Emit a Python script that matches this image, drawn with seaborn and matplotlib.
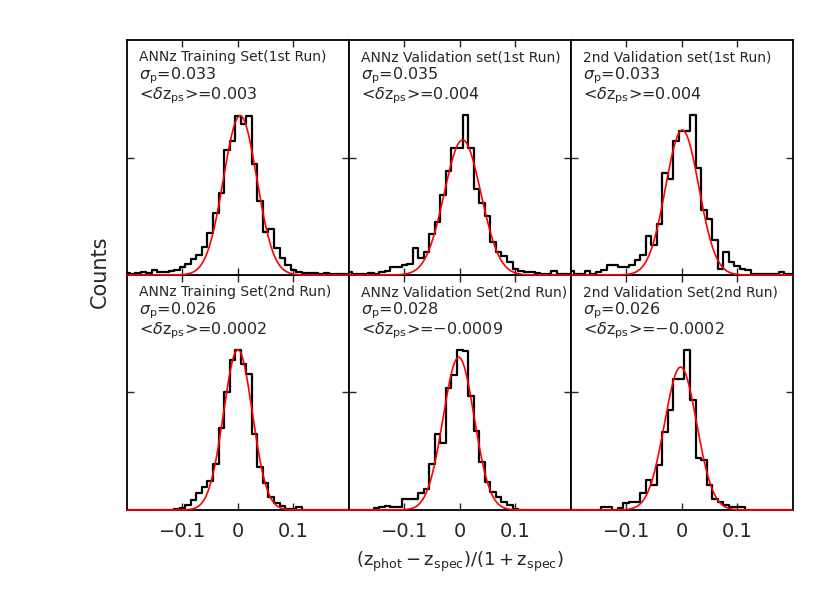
import numpy as np
import pandas as pd
import matplotlib
matplotlib.use("Agg")
import matplotlib.pyplot as plt
import seaborn as sns

sns.set_style("ticks")
plt.rcParams['font.family'] = ['DejaVu Sans']
plt.rcParams['mathtext.fontset'] = 'dejavusans'

# histogram bins (centres, width 0.01)
bin_centers = np.round(np.arange(-0.20, 0.2001, 0.01), 2)
bin_width = 0.01

panel_titles = [
    'ANNz Training Set(1st Run)',
    'ANNz Validation set(1st Run)',
    '2nd Validation set(1st Run)',
    'ANNz Training Set(2nd Run)',
    'ANNz Validation Set(2nd Run)',
    '2nd Validation Set(2nd Run)',
]
sigma_text = ['0.033', '0.035', '0.033', '0.026', '0.028', '0.026']
mean_text = ['0.003', '0.004', '0.004', '0.0002', '\u22120.0009', '\u22120.0002']

# counts per bin
counts_train_1st = [9, 6, 9, 12, 8, 20, 12, 13, 16, 23, 34, 46, 70, 84, 120, 177,
                    263, 349, 531, 571, 678, 642, 678, 474, 317, 185, 195, 113, 73,
                    44, 20, 13, 10, 8, 10, 6, 8, 5, 4, 5, 5]
counts_valid_1st = [13, 6, 5, 6, 8, 6, 13, 16, 34, 34, 42, 45, 117, 74, 99, 174,
                    227, 339, 444, 542, 542, 682, 542, 368, 306, 249, 142, 99, 82,
                    56, 27, 16, 13, 13, 9, 6, 6, 16, 3, 3, 3]
counts_valid2_1st = [16, 4, 4, 16, 4, 12, 20, 44, 44, 34, 34, 44, 63, 87, 166, 127,
                     216, 435, 410, 570, 614, 614, 682, 456, 278, 239, 149, 27, 96,
                     55, 40, 25, 20, 4, 4, 4, 4, 4, 13, 4, 4]
counts_train_2nd = [0, 0, 0, 0, 0, 0, 0, 0, 0, 5, 10, 20, 43, 71, 99, 124, 194,
                    350, 500, 639, 682, 622, 577, 325, 183, 116, 57, 29, 15, 6, 6,
                    13, 0, 0, 0, 0, 0, 0, 0, 0, 0]
counts_valid_2nd = [0, 0, 0, 0, 0, 10, 13, 18, 13, 13, 47, 47, 47, 74, 88, 197,
                    325, 287, 517, 573, 682, 678, 483, 336, 204, 120, 78, 57, 36,
                    20, 6, 0, 0, 0, 0, 0, 0, 0, 0, 0, 0]
counts_valid2_2nd = [0, 0, 0, 0, 0, 0, 11, 11, 0, 8, 30, 36, 36, 74, 127, 106,
                     190, 333, 427, 559, 559, 682, 469, 222, 211, 106, 46, 36, 20,
                     14, 14, 12, 0, 0, 0, 0, 0, 0, 0, 0, 0]
all_counts = [counts_train_1st, counts_valid_1st, counts_valid2_1st,
              counts_train_2nd, counts_valid_2nd, counts_valid2_2nd]

# gaussian fit parameters (amplitude, mean, sigma)
fit_amp = [678, 575, 617, 682, 650, 608]
fit_mean = [0.004, 0.005, 0.001, 0.0, -0.002, -0.002]
fit_sigma = [0.030, 0.033, 0.030, 0.026, 0.028, 0.029]

xtick_values = [-0.1, 0.0, 0.1]
xtick_labels = ['\u22120.1', '0', '0.1']

fig, axes = plt.subplots(2, 3, figsize=(8.3, 5.93), dpi=100, sharex=True, sharey=True)
fig.subplots_adjust(left=0.153, right=0.955, top=0.9325, bottom=0.140,
                    wspace=0, hspace=0)

xfit = np.linspace(-0.2, 0.2, 401)

for i, ax in enumerate(axes.flat):
    hist_df = pd.DataFrame({'dz': bin_centers, 'n': all_counts[i]})
    sns.histplot(data=hist_df, x='dz', weights='n', binwidth=bin_width,
                 binrange=(bin_centers[0] - bin_width / 2, bin_centers[-1] + bin_width / 2),
                 element='step', fill=False, color='black', linewidth=1.6, ax=ax)
    fit_df = pd.DataFrame({
        'dz': xfit,
        'n': fit_amp[i] * np.exp(-0.5 * ((xfit - fit_mean[i]) / fit_sigma[i]) ** 2),
    })
    sns.lineplot(data=fit_df, x='dz', y='n', color='red', linewidth=1.2, ax=ax)
    # red fit sits on top of the frame like in the original
    ax.lines[-1].set_clip_on(False)
    ax.lines[-1].set_zorder(4)

    ax.set_xlim(-0.2, 0.2)
    ax.set_ylim(0, 1000)
    ax.set_xticks(xtick_values)
    ax.set_xticklabels(xtick_labels)
    ax.set_yticks([500])
    ax.set_ylabel('')
    ax.set_xlabel('')
    ax.tick_params(axis='both', direction='in', top=True, right=True,
                   length=5, width=1, labelsize=14, pad=9, labelleft=False)
    for sp in ax.spines.values():
        sp.set_linewidth(1.3)
        sp.set_color('black')
        sp.set_zorder(3)
    if i < 3:
        ax.set_zorder(1)

    ax.text(0.055, 0.927, panel_titles[i], fontsize=10,
            transform=ax.transAxes, va='center', ha='left')
    ax.text(0.055, 0.85, r'$\sigma_{\rm p}$=' + sigma_text[i], fontsize=11.5,
            transform=ax.transAxes, va='center', ha='left')
    ax.text(0.055, 0.765, r'<$\delta$z$_{\rm ps}$>=' + mean_text[i], fontsize=11.5,
            transform=ax.transAxes, va='center', ha='left')

fig.text(0.12, 0.541, 'Counts', rotation=90, fontsize=15, ha='center', va='center')
fig.text(0.554, 0.052, r'$(\mathrm{z}_{\mathrm{phot}}-\mathrm{z}_{\mathrm{spec}})/(1+\mathrm{z}_{\mathrm{spec}})$',
         fontsize=13, ha='center', va='center')

fig.savefig('out.png', dpi=100)
